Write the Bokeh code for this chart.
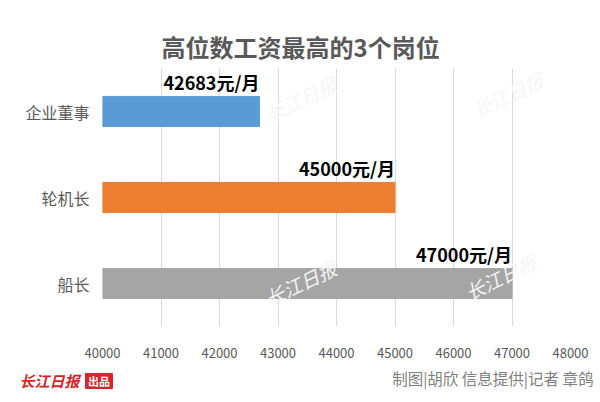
from bokeh.plotting import figure
from bokeh.models import ColumnDataSource, Label, FixedTicker, Range1d, FactorRange
from bokeh.layouts import column
from bokeh.core.properties import value
from bokeh.embed import file_html
from bokeh.resources import INLINE

title_text = "高位数工资最高的3个岗位"
categories = ["企业董事", "轮机长", "船长"]
salaries = [42683, 45000, 47000]
label_texts = ["42683元/月", "45000元/月", "47000元/月"]
bar_colors = ["#5B9BD5", "#ED7D31", "#A5A5A5"]
x_ticks = [40000, 41000, 42000, 43000, 44000, 45000, 46000, 47000, 48000]
credit = "制图|胡欣 信息提供|记者 章鸽"
logo_text = "长江日报"
logo_tag = "出品"
watermark = "长江日报"

FONT = "Noto Sans CJK SC"
W = 600

src = ColumnDataSource(dict(cat=categories, val=salaries, lab=label_texts, col=bar_colors))

p = figure(width=W, height=362, output_backend="svg", toolbar_location=None,
           y_range=FactorRange(*reversed(categories)), x_range=Range1d(40000, 48000),
           min_border_left=102, min_border_right=30, min_border_top=68, min_border_bottom=36)
p.outline_line_color = None
p.background_fill_color = "white"
p.border_fill_color = "white"

# faint watermarks (frame screen coords)
for wx, wy in [(198, 228), (405, 232), (198, 44), (398, 50)]:
    p.add_layout(Label(x=wx, y=wy, x_units="screen", y_units="screen", text=watermark,
                       text_align="center", text_baseline="middle", angle=0.45,
                       text_font=FONT, text_font_size="19px", text_font_style="italic",
                       text_color="#F5F5F5"))

p.hbar(y="cat", left=40000, right="val", height=0.35, color="col", source=src)
p.text(x="val", y="cat", text="lab", source=src, text_align="right", text_baseline="bottom",
       y_offset=-17, text_font=value(FONT), text_font_style="bold", text_font_size="18px",
       text_color="black")

p.xaxis.ticker = FixedTicker(ticks=x_ticks)
p.xaxis.axis_line_color = None
p.xaxis.major_tick_line_color = None
p.xaxis.minor_tick_line_color = None
p.xaxis.major_label_text_font = FONT
p.xaxis.major_label_text_font_size = "13px"
p.xaxis.major_label_text_color = "#595959"
p.xaxis.major_label_standoff = 15

p.yaxis.axis_line_color = None
p.yaxis.major_tick_line_color = None
p.yaxis.minor_tick_line_color = None
p.yaxis.major_label_text_font = FONT
p.yaxis.major_label_text_font_size = "16px"
p.yaxis.major_label_text_color = "#595959"
p.yaxis.major_label_standoff = 7

p.xgrid.grid_line_color = "#D9D9D9"
p.ygrid.grid_line_color = None

p.title.text = title_text
p.title.align = "left"
p.title.offset = 59
p.title.text_font = FONT
p.title.text_font_size = "24px"
p.title.text_font_style = "bold"
p.title.text_color = "#595959"
p.title.standoff = 9

# footer
f = figure(width=W, height=40, output_backend="svg", toolbar_location=None,
           x_range=Range1d(0, W), y_range=Range1d(40, 0),
           min_border=0, min_border_left=0, min_border_right=0,
           min_border_top=0, min_border_bottom=0)
f.axis.visible = False
f.grid.grid_line_color = None
f.outline_line_color = None
f.border_fill_color = "white"
for fig in (p, f):
    try:
        fig.frame_align = False
    except Exception:
        pass

f.text(x=[593], y=[15], text=[credit], text_align="right", text_baseline="middle",
       text_font=value(FONT), text_font_size="15.5px", text_color="#7F7F7F")
f.text(x=[19], y=[18], text=[logo_text], text_align="left", text_baseline="middle",
       text_font=value(FONT), text_font_size="15px", text_font_style="bold italic",
       text_color="#D7262B")
f.rect(x=[98.5], y=[18.5], width=27, height=15, color="#D7262B")
f.text(x=[98.5], y=[18.5], text=[logo_tag], text_align="center", text_baseline="middle",
       text_font=value(FONT), text_font_size="11px", text_font_style="bold",
       text_color="white")

layout = column(p, f, spacing=0)
open("out.html", "w").write(file_html(layout, INLINE))
